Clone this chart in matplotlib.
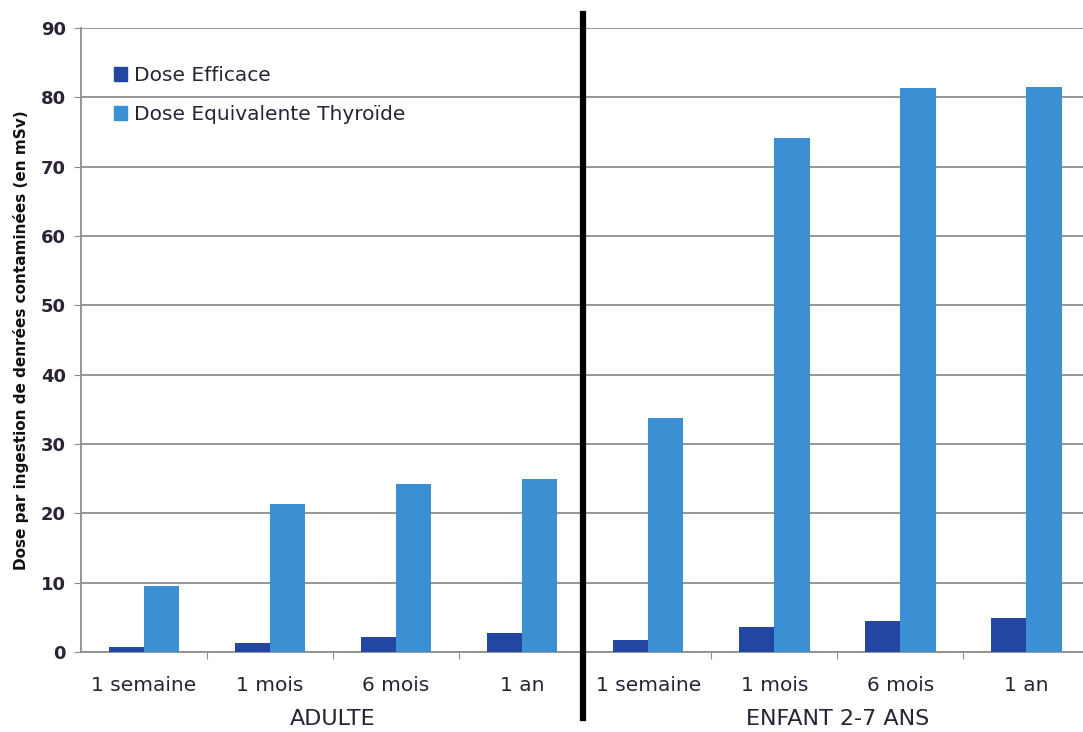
import numpy as np
import matplotlib
matplotlib.use("Agg")
import matplotlib.pyplot as plt
from matplotlib.lines import Line2D
from matplotlib.patches import Patch

# ── Data ──────────────────────────────────────────────────────────────────────
PERIODS = ["1 semaine", "1 mois", "6 mois", "1 an"]
GROUPS = ["ADULTE", "ENFANT 2-7 ANS"]
DOSE_EFFICACE = [0.7, 1.3, 2.2, 2.7, 1.8, 3.6, 4.4, 4.9]
DOSE_THYROIDE = [9.5, 21.4, 24.2, 24.9, 33.8, 74.2, 81.3, 81.5]
Y_TICKS = [0, 10, 20, 30, 40, 50, 60, 70, 80, 90]

C_DARK = "#2346a3"
C_LIGHT = "#3b90d4"
GRID = "#8e8e8e"
TXT = "#2b2233"

plt.rcParams["font.family"] = ["DejaVu Sans"]

fig = plt.figure(figsize=(10.83, 7.32), dpi=100)
ax = fig.add_axes([0.0748, 0.1093, 0.9252, 0.8525])

labels = PERIODS * len(GROUPS)
x = np.arange(len(labels))
w = 0.28
ax.bar(x - w / 2, DOSE_EFFICACE, width=w, color=C_DARK, zorder=3)
ax.bar(x + w / 2, DOSE_THYROIDE, width=w, color=C_LIGHT, zorder=3)

ax.set_xlim(-0.5, 7.45)
ax.set_ylim(0, 90)
ax.set_yticks(Y_TICKS)
ax.yaxis.grid(True, color=GRID, linewidth=1.3, zorder=0)
ax.set_axisbelow(True)

for s in ["top", "right"]:
    ax.spines[s].set_visible(False)
ax.spines["left"].set_color(GRID)
ax.spines["bottom"].set_color(GRID)
ax.spines["left"].set_linewidth(1.3)
ax.spines["bottom"].set_linewidth(1.3)

# category boundaries as major ticks, labels on minor ticks
ax.set_xticks(np.arange(0.5, 7.5, 1.0))
ax.set_xticklabels([])
ax.set_xticks(x, minor=True)
ax.set_xticklabels(labels, minor=True, fontsize=14.5, color=TXT)
ax.tick_params(axis="x", which="major", length=5, color=GRID, direction="out")
ax.tick_params(axis="x", which="minor", length=0, pad=17)
ax.tick_params(axis="y", length=5, color=GRID, labelsize=13, labelcolor=TXT, pad=6)
for t in ax.get_yticklabels():
    t.set_fontweight("bold")

ax.set_ylabel("Dose par ingestion de denrées contaminées (en mSv)",
              fontsize=11, fontweight="bold", color="#111111", labelpad=8)

# group labels
for i, g in enumerate(GROUPS):
    ax.text(1.5 + 4 * i, -0.107, g, transform=ax.get_xaxis_transform(),
            ha="center", va="center", fontsize=16, color=TXT)

# separator between groups
fig.add_artist(Line2D([583 / 1083, 583 / 1083], [1 - 718 / 732, 1 - 14 / 732],
                      color="black", linewidth=4.5))

handles = [Patch(color=C_DARK, label="Dose Efficace"),
           Patch(color=C_LIGHT, label="Dose Equivalente Thyroïde")]
ax.legend(handles=handles, loc="upper left", bbox_to_anchor=(0.015, 0.968),
          frameon=False, fontsize=14.5, handlelength=0.65, handleheight=0.65,
          handletextpad=0.35, labelspacing=1.0, labelcolor=TXT)

fig.savefig("out.png", dpi=100)
